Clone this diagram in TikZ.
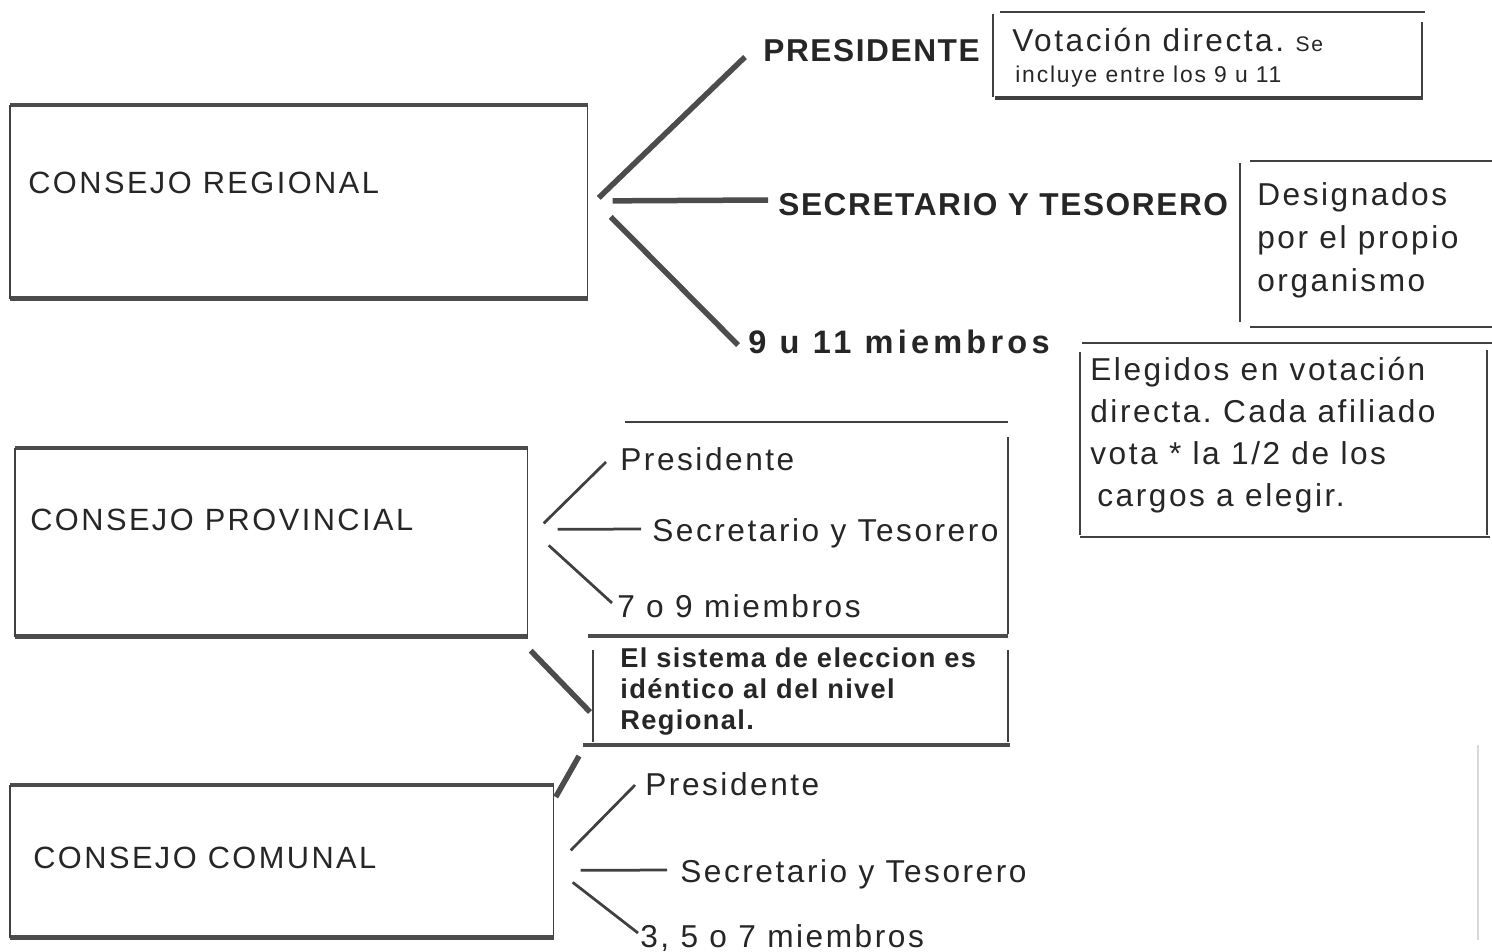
\documentclass[tikz,border=0pt]{standalone}
\usepackage{fontspec}
\setmainfont{Liberation Sans}
\newfontfamily\scanfont[LetterSpace=8]{Liberation Sans}
\newfontfamily\scanbold[LetterSpace=5]{Liberation Sans Bold}
\frenchspacing
\usetikzlibrary{positioning}
\usetikzlibrary{calc}

\begin{document}
\begin{tikzpicture}[
	x = 0.2mm, y = -0.2mm,
	heavy/.style = {line width = 0.9mm, black!70},
	fine/.style = {line width = 0.3mm, black!75},
	mid/.style = {line width = 0.55mm, black!75},
	branch/.style = {line width = 1.1mm, black!70},
	twig/.style = {line width = 0.55mm, black!75},
	lbl/.style = {
	  anchor = base west, inner sep = 0pt, text = black!85,
	  font = \scanfont\fontsize{18}{20}\selectfont,
	},
	council/.style = {lbl, font = \scanfont\fontsize{17.5}{20}\selectfont},
	caps/.style = {lbl, font = \scanbold\fontsize{18}{20}\selectfont},
	small/.style = {lbl, font = \scanfont\fontsize{13}{16}\selectfont},
	note/.style = {lbl, font = \scanbold\fontsize{15.5}{18}\selectfont},
	frame/.style = {draw = none, inner sep = 0pt, anchor = north west},
  ]

  \fill[white] (0,0) rectangle (1492,951);
  \useasboundingbox (0,0) rectangle (1492,951);

  % the three councils
  \node[frame, minimum width = 115.4mm, minimum height = 38.6mm] (regional) at (10,105) {};
  \node[frame, minimum width = 102.4mm, minimum height = 37.6mm] (provincial) at (15,448) {};
  \node[frame, minimum width = 108.6mm, minimum height = 30.4mm] (comunal) at (10,785) {};
  \foreach \c in {regional, provincial, comunal} {
	\draw[heavy] (\c.north west) -- (\c.north east);
	\draw[heavy] (\c.south west) -- (\c.south east);
	\draw[fine] (\c.north west) -- (\c.south west);
	\draw[fine] (\c.north east) -- (\c.south east);
  }
  \node[council] (regname) at (28,193) {CONSEJO REGIONAL};
  \node[council] (provname) at (30,530) {CONSEJO PROVINCIAL};
  \node[council] (comname) at (33,868) {CONSEJO COMUNAL};

  % regional
  \node[caps] (pres) at (763,62) {PRESIDENTE};
  \node[caps] (sec) at (778,215) {SECRETARIO Y TESORERO};
  \node[caps, font = \scanbold\fontsize{18.5}{20}\selectfont\addfontfeature{LetterSpace=13}]
	(nine) at (748,353) {9 u 11 miembros};
  \draw[branch] ([shift={(11,-4)}]regional.east) -- ([shift={(-18,-5)}]pres.base west);
  \draw[branch] ([shift={(25,-1)}]regional.east) -- ([shift={(-10,-15)}]sec.base west);
  \draw[branch] ([shift={(23,15)}]regional.east) -- ([shift={(-10,-8)}]nine.base west);

  \node[lbl] (vot1) at (1012,52) {Votación directa. {\fontsize{12}{14}\selectfont Se}};
  \node[small] (vot2) at (1015,83) {incluye entre los 9 u 11};
  \draw[mid] (1000,12) -- (1425,12);
  \draw[fine] (993,14) -- (993,97);
  \draw[fine] (1422,22) -- (1422,100);
  \draw[line width = 0.65mm, black!75] (995,98) -- (1422,98);

  \foreach \t [count=\i] in {Designados, por el propio, organismo}
	\node[lbl] (desig\i) at (1257, 162+43*\i) {\t};
  \draw[mid] (1250,161) -- (1492,161);
  \draw[fine] (1240,163) -- (1240,322);
  \draw[mid] (1250,327) -- (1492,327);

  \foreach \t [count=\i] in {Elegidos en votación, directa. Cada afiliado,
	vota * la 1/2 de los, \hspace{1.4mm}cargos a elegir.}
	\node[lbl] (eleg\i) at (1090, 338+42*\i) {\t};
  \draw[mid] (1082,343) -- (1492,343);
  \draw[fine] (1080,352) -- (1080,535);
  \draw[fine] (1487,350) -- (1487,535);
  \draw[mid] (1080,537) -- (1490,537);

  % provincial
  \node[lbl] (pres2) at (620,470) {Presidente};
  \node[lbl] (sec2) at (652,541) {Secretario y Tesorero};
  \node[lbl] (seven) at (617,617) {7 o 9 miembros};
  \draw[twig] ([shift={(16,-19)}]provincial.east) -- ([shift={(-14,-8)}]pres2.base west);
  \draw[twig] ([shift={(30,-13)}]provincial.east) -- ([shift={(-11,-12)}]sec2.base west);
  \draw[twig] ([shift={(21,3)}]provincial.east) -- ([shift={(-5,-14)}]seven.base west);
  \draw[fine] (625,422) -- (1008,422);
  \draw[fine] (1008,437) -- (1008,634);
  \draw[heavy] (588,636) -- (1008,636);

  \foreach \t [count=\i] in {El sistema de eleccion es, idéntico al del nivel, Regional.}
	\node[note] (sis\i) at (620, 636+31*\i) {\t};
  \draw[branch] ([shift={(3,14)}]provincial.south east) -- ([shift={(-30,14)}]sis2.base west);
  \draw[fine] (593,650) -- (593,742);
  \draw[mid] (1008,650) -- (1008,742);
  \draw[heavy] (583,745) -- (1010,745);

  % comunal
  \coordinate (sisfoot) at (579,756);
  \draw[branch] ([shift={(2,12)}]comunal.north east) -- (sisfoot);
  \node[lbl] (pres3) at (645,795) {Presidente};
  \node[lbl] (sec3) at (680,882) {Secretario y Tesorero};
  \node[lbl] (three) at (640,947) {3, 5 o 7 miembros};
  \draw[twig] ([shift={(17,-11)}]comunal.east) -- ([shift={(-10,-10)}]pres3.base west);
  \draw[twig] ([shift={(27,9)}]comunal.east) -- ([shift={(-13,-12)}]sec3.base west);
  \draw[twig] ([shift={(19,21)}]comunal.east) -- ([shift={(-2,-14)}]three.base west);

  \draw[black!15, line width = 0.3mm] (1478,745) -- (1478,940);
\end{tikzpicture}
\end{document}
